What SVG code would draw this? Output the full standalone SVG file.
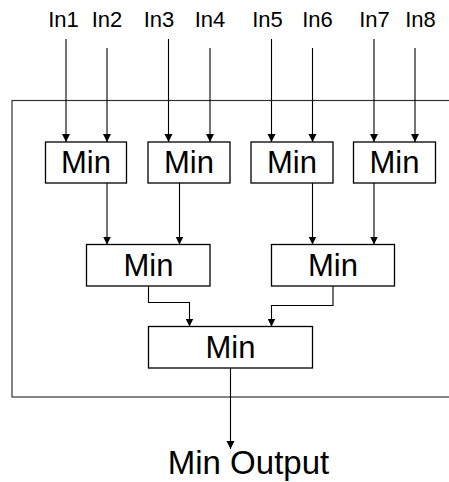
<svg xmlns="http://www.w3.org/2000/svg" width="449" height="482" viewBox="0 0 449 482">
<defs>
<marker id="ah" markerUnits="userSpaceOnUse" markerWidth="9" markerHeight="9" refX="8" refY="4" orient="auto">
<path d="M0,0 L8,4 L0,8 z" fill="#000"/>
</marker>
<style>
.lbl{font-family:"Liberation Sans",Arial,sans-serif;font-size:22px;fill:#000;text-anchor:middle}
.mt{font-family:"Liberation Sans",Arial,sans-serif;font-size:31px;fill:#000;text-anchor:middle}
.box{fill:#fff;stroke:#000;stroke-width:1.3}
.c{fill:none;stroke:#000;stroke-width:1.1;marker-end:url(#ah)}
.frame{fill:none;stroke:#333;stroke-width:1.2}
</style>
</defs>
<rect width="449" height="482" fill="#fff"/>
<rect class="frame" x="12" y="100.5" width="460" height="296.5"/>
<g id="labels">
<text class="lbl" x="63.5" y="27">In1</text>
<text class="lbl" x="107" y="27">In2</text>
<text class="lbl" x="159" y="27">In3</text>
<text class="lbl" x="210" y="27">In4</text>
<text class="lbl" x="267.5" y="27">In5</text>
<text class="lbl" x="317.5" y="27">In6</text>
<text class="lbl" x="374.5" y="27">In7</text>
<text class="lbl" x="420.5" y="27">In8</text>
</g>
<g id="connectors">
<path class="c" d="M66,39 V142"/>
<path class="c" d="M107,48 V142"/>
<path class="c" d="M168.5,39 V142"/>
<path class="c" d="M210,48 V142"/>
<path class="c" d="M271.5,39 V142"/>
<path class="c" d="M312.5,48 V142"/>
<path class="c" d="M374,39 V142"/>
<path class="c" d="M415,48 V142"/>
<path class="c" d="M107,183 V244.5"/>
<path class="c" d="M179.5,183 V244.5"/>
<path class="c" d="M312.5,183 V244.5"/>
<path class="c" d="M374,183 V244.5"/>
<path class="c" d="M148.5,286 V302.5 H189.5 V326.5"/>
<path class="c" d="M333,286 V305.5 H271.5 V326.5"/>
<path class="c" d="M230.5,368 V449"/>
</g>
<g id="min1"><rect class="box" x="45.5" y="142" width="81" height="41"/><text class="mt" x="86" y="172.7">Min</text></g>
<g id="min2"><rect class="box" x="148" y="142" width="82" height="41"/><text class="mt" x="189" y="172.7">Min</text></g>
<g id="min3"><rect class="box" x="251" y="142" width="82" height="41"/><text class="mt" x="292" y="172.7">Min</text></g>
<g id="min4"><rect class="box" x="353.5" y="142" width="82" height="41"/><text class="mt" x="394.5" y="172.7">Min</text></g>
<g id="min5"><rect class="box" x="86.5" y="244.5" width="123.5" height="41.5"/><text class="mt" x="148.5" y="276">Min</text></g>
<g id="min6"><rect class="box" x="271.5" y="244.5" width="123" height="41.5"/><text class="mt" x="333" y="276">Min</text></g>
<g id="min7"><rect class="box" x="148.5" y="326.5" width="164" height="41.5"/><text class="mt" x="230.5" y="357.7">Min</text></g>
<g id="output"><text class="mt" x="248.5" y="473.5" style="font-size:33px">Min Output</text></g>
</svg>
